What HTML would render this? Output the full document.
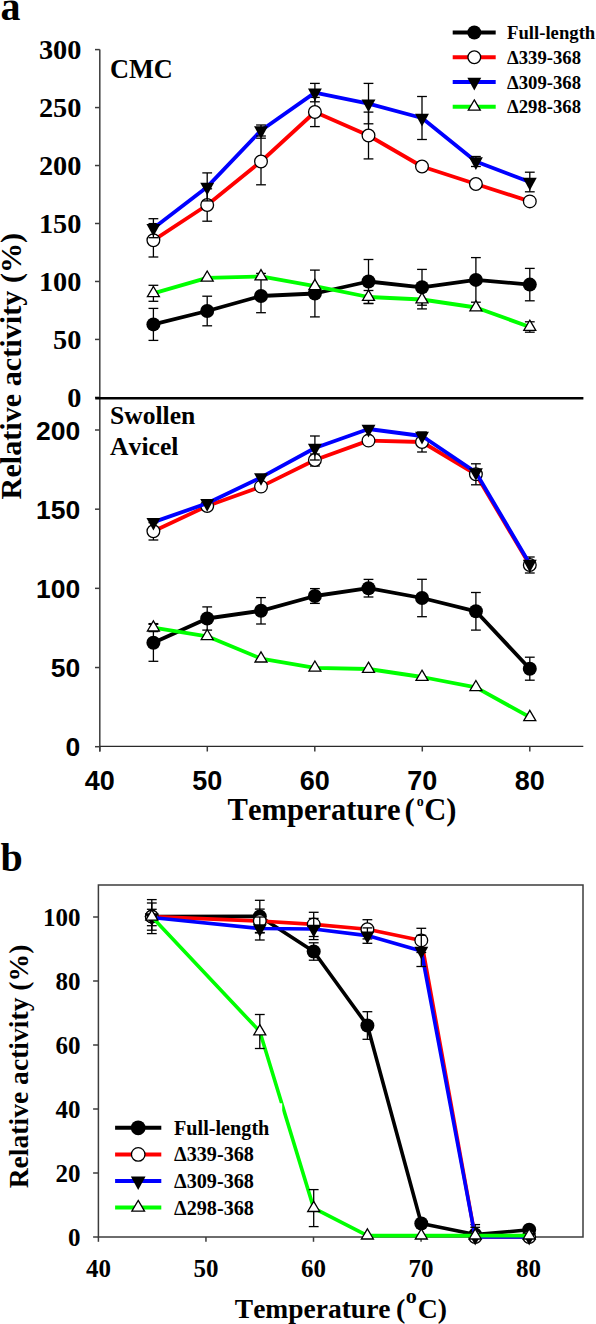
<!DOCTYPE html>
<html><head><meta charset="utf-8"><style>
html,body{margin:0;padding:0;background:#fff;}
svg{display:block;} text{font-kerning:none;}
</style></head><body>
<svg width="596" height="1324" viewBox="0 0 596 1324">
<rect width="596" height="1324" fill="#fff"/>
<text x="0.50" y="20.00" font-family='"Liberation Serif", serif' font-weight="bold" font-size="40" text-anchor="start" >a</text>
<line x1="99.80" y1="49.60" x2="99.80" y2="751.50" stroke="#3c3c3c" stroke-width="1.5" stroke-linecap="butt"/>
<line x1="95.00" y1="397.40" x2="99.80" y2="397.40" stroke="#3c3c3c" stroke-width="1.5" stroke-linecap="butt"/>
<text x="81.40" y="407.00" font-family='"Liberation Serif", serif' font-weight="bold" font-size="28.3" text-anchor="end" >0</text>
<line x1="95.00" y1="339.43" x2="99.80" y2="339.43" stroke="#3c3c3c" stroke-width="1.5" stroke-linecap="butt"/>
<text x="81.40" y="349.03" font-family='"Liberation Serif", serif' font-weight="bold" font-size="28.3" text-anchor="end" >50</text>
<line x1="95.00" y1="281.47" x2="99.80" y2="281.47" stroke="#3c3c3c" stroke-width="1.5" stroke-linecap="butt"/>
<text x="81.40" y="291.07" font-family='"Liberation Serif", serif' font-weight="bold" font-size="28.3" text-anchor="end" >100</text>
<line x1="95.00" y1="223.50" x2="99.80" y2="223.50" stroke="#3c3c3c" stroke-width="1.5" stroke-linecap="butt"/>
<text x="81.40" y="233.10" font-family='"Liberation Serif", serif' font-weight="bold" font-size="28.3" text-anchor="end" >150</text>
<line x1="95.00" y1="165.53" x2="99.80" y2="165.53" stroke="#3c3c3c" stroke-width="1.5" stroke-linecap="butt"/>
<text x="81.40" y="175.13" font-family='"Liberation Serif", serif' font-weight="bold" font-size="28.3" text-anchor="end" >200</text>
<line x1="95.00" y1="107.57" x2="99.80" y2="107.57" stroke="#3c3c3c" stroke-width="1.5" stroke-linecap="butt"/>
<text x="81.40" y="117.17" font-family='"Liberation Serif", serif' font-weight="bold" font-size="28.3" text-anchor="end" >250</text>
<line x1="95.00" y1="49.60" x2="99.80" y2="49.60" stroke="#3c3c3c" stroke-width="1.5" stroke-linecap="butt"/>
<text x="81.40" y="59.20" font-family='"Liberation Serif", serif' font-weight="bold" font-size="28.3" text-anchor="end" >300</text>
<line x1="95.20" y1="398.30" x2="583.40" y2="398.30" stroke="#000" stroke-width="2.4" stroke-linecap="butt"/>
<line x1="95.00" y1="746.70" x2="99.80" y2="746.70" stroke="#3c3c3c" stroke-width="1.5" stroke-linecap="butt"/>
<text x="80.30" y="756.20" font-family='"Liberation Sans", sans-serif' font-weight="bold" font-size="26.5" text-anchor="end" >0</text>
<line x1="95.00" y1="667.53" x2="99.80" y2="667.53" stroke="#3c3c3c" stroke-width="1.5" stroke-linecap="butt"/>
<text x="80.30" y="677.03" font-family='"Liberation Sans", sans-serif' font-weight="bold" font-size="26.5" text-anchor="end" >50</text>
<line x1="95.00" y1="588.35" x2="99.80" y2="588.35" stroke="#3c3c3c" stroke-width="1.5" stroke-linecap="butt"/>
<text x="80.30" y="597.85" font-family='"Liberation Sans", sans-serif' font-weight="bold" font-size="26.5" text-anchor="end" >100</text>
<line x1="95.00" y1="509.18" x2="99.80" y2="509.18" stroke="#3c3c3c" stroke-width="1.5" stroke-linecap="butt"/>
<text x="80.30" y="518.67" font-family='"Liberation Sans", sans-serif' font-weight="bold" font-size="26.5" text-anchor="end" >150</text>
<line x1="95.00" y1="430.00" x2="99.80" y2="430.00" stroke="#3c3c3c" stroke-width="1.5" stroke-linecap="butt"/>
<text x="80.30" y="439.50" font-family='"Liberation Sans", sans-serif' font-weight="bold" font-size="26.5" text-anchor="end" >200</text>
<line x1="99.80" y1="746.40" x2="583.30" y2="746.40" stroke="#2a2a2a" stroke-width="1.3" stroke-linecap="butt"/>
<line x1="99.80" y1="746.70" x2="99.80" y2="751.50" stroke="#3c3c3c" stroke-width="1.5" stroke-linecap="butt"/>
<text x="99.80" y="790.20" font-family='"Liberation Sans", sans-serif' font-weight="bold" font-size="27" text-anchor="middle" >40</text>
<line x1="207.30" y1="746.70" x2="207.30" y2="751.50" stroke="#3c3c3c" stroke-width="1.5" stroke-linecap="butt"/>
<text x="207.30" y="790.20" font-family='"Liberation Sans", sans-serif' font-weight="bold" font-size="27" text-anchor="middle" >50</text>
<line x1="314.80" y1="746.70" x2="314.80" y2="751.50" stroke="#3c3c3c" stroke-width="1.5" stroke-linecap="butt"/>
<text x="314.80" y="790.20" font-family='"Liberation Sans", sans-serif' font-weight="bold" font-size="27" text-anchor="middle" >60</text>
<line x1="422.30" y1="746.70" x2="422.30" y2="751.50" stroke="#3c3c3c" stroke-width="1.5" stroke-linecap="butt"/>
<text x="422.30" y="790.20" font-family='"Liberation Sans", sans-serif' font-weight="bold" font-size="27" text-anchor="middle" >70</text>
<line x1="529.80" y1="746.70" x2="529.80" y2="751.50" stroke="#3c3c3c" stroke-width="1.5" stroke-linecap="butt"/>
<text x="529.80" y="790.20" font-family='"Liberation Sans", sans-serif' font-weight="bold" font-size="27" text-anchor="middle" >80</text>
<text x="227.60" y="820.30" font-family='"Liberation Serif", serif' font-weight="bold" font-size="30.55" text-anchor="start" >Temperature</text>
<text x="404.50" y="820.30" font-family='"Liberation Serif", serif' font-weight="bold" font-size="30.55" text-anchor="start" >(</text>
<text x="416.80" y="806.20" font-family='"Liberation Serif", serif' font-weight="bold" font-size="14" text-anchor="start" >o</text>
<text x="424.30" y="820.30" font-family='"Liberation Serif", serif' font-weight="bold" font-size="30.55" text-anchor="start" >C)</text>
<text transform="translate(20.5,366.1) rotate(-90)" font-family='"Liberation Serif", serif' font-weight="bold" font-size="30.2" text-anchor="middle">Relative activity (%)</text>
<text x="110.00" y="77.80" font-family='"Liberation Serif", serif' font-weight="bold" font-size="26.3" text-anchor="start" >CMC</text>
<text x="110.00" y="424.30" font-family='"Liberation Serif", serif' font-weight="bold" font-size="25.6" text-anchor="start" >Swollen</text>
<text x="110.00" y="455.40" font-family='"Liberation Serif", serif' font-weight="bold" font-size="25.7" text-anchor="start" >Avicel</text>
<polyline points="153.40,324.40 207.20,311.00 261.00,296.00 314.90,293.50 368.50,281.50 422.00,287.30 475.90,279.90 529.80,284.60" fill="none" stroke="#000" stroke-width="3.8" stroke-linejoin="round" stroke-linecap="butt"/>
<line x1="153.40" y1="308.40" x2="153.40" y2="340.40" stroke="#000" stroke-width="1.3"/>
<line x1="148.50" y1="308.40" x2="158.30" y2="308.40" stroke="#000" stroke-width="1.3"/>
<line x1="148.50" y1="340.40" x2="158.30" y2="340.40" stroke="#000" stroke-width="1.3"/>
<line x1="207.20" y1="296.20" x2="207.20" y2="325.80" stroke="#000" stroke-width="1.3"/>
<line x1="202.30" y1="296.20" x2="212.10" y2="296.20" stroke="#000" stroke-width="1.3"/>
<line x1="202.30" y1="325.80" x2="212.10" y2="325.80" stroke="#000" stroke-width="1.3"/>
<line x1="261.00" y1="279.30" x2="261.00" y2="312.70" stroke="#000" stroke-width="1.3"/>
<line x1="256.10" y1="279.30" x2="265.90" y2="279.30" stroke="#000" stroke-width="1.3"/>
<line x1="256.10" y1="312.70" x2="265.90" y2="312.70" stroke="#000" stroke-width="1.3"/>
<line x1="314.90" y1="270.10" x2="314.90" y2="316.90" stroke="#000" stroke-width="1.3"/>
<line x1="310.00" y1="270.10" x2="319.80" y2="270.10" stroke="#000" stroke-width="1.3"/>
<line x1="310.00" y1="316.90" x2="319.80" y2="316.90" stroke="#000" stroke-width="1.3"/>
<line x1="368.50" y1="259.50" x2="368.50" y2="303.50" stroke="#000" stroke-width="1.3"/>
<line x1="363.60" y1="259.50" x2="373.40" y2="259.50" stroke="#000" stroke-width="1.3"/>
<line x1="363.60" y1="303.50" x2="373.40" y2="303.50" stroke="#000" stroke-width="1.3"/>
<line x1="422.00" y1="269.40" x2="422.00" y2="305.20" stroke="#000" stroke-width="1.3"/>
<line x1="417.10" y1="269.40" x2="426.90" y2="269.40" stroke="#000" stroke-width="1.3"/>
<line x1="417.10" y1="305.20" x2="426.90" y2="305.20" stroke="#000" stroke-width="1.3"/>
<line x1="475.90" y1="257.60" x2="475.90" y2="302.20" stroke="#000" stroke-width="1.3"/>
<line x1="471.00" y1="257.60" x2="480.80" y2="257.60" stroke="#000" stroke-width="1.3"/>
<line x1="471.00" y1="302.20" x2="480.80" y2="302.20" stroke="#000" stroke-width="1.3"/>
<line x1="529.80" y1="268.40" x2="529.80" y2="300.80" stroke="#000" stroke-width="1.3"/>
<line x1="524.90" y1="268.40" x2="534.70" y2="268.40" stroke="#000" stroke-width="1.3"/>
<line x1="524.90" y1="300.80" x2="534.70" y2="300.80" stroke="#000" stroke-width="1.3"/>
<circle cx="153.40" cy="324.40" r="7.00" fill="#000"/>
<circle cx="207.20" cy="311.00" r="7.00" fill="#000"/>
<circle cx="261.00" cy="296.00" r="7.00" fill="#000"/>
<circle cx="314.90" cy="293.50" r="7.00" fill="#000"/>
<circle cx="368.50" cy="281.50" r="7.00" fill="#000"/>
<circle cx="422.00" cy="287.30" r="7.00" fill="#000"/>
<circle cx="475.90" cy="279.90" r="7.00" fill="#000"/>
<circle cx="529.80" cy="284.60" r="7.00" fill="#000"/>
<polyline points="153.40,240.30 207.20,205.00 261.00,161.50 314.90,112.00 368.50,135.50 422.00,166.50 475.90,184.00 529.80,201.40" fill="none" stroke="#f00" stroke-width="3.8" stroke-linejoin="round" stroke-linecap="butt"/>
<line x1="153.40" y1="223.60" x2="153.40" y2="257.00" stroke="#000" stroke-width="1.3"/>
<line x1="148.50" y1="223.60" x2="158.30" y2="223.60" stroke="#000" stroke-width="1.3"/>
<line x1="148.50" y1="257.00" x2="158.30" y2="257.00" stroke="#000" stroke-width="1.3"/>
<line x1="207.20" y1="188.80" x2="207.20" y2="221.20" stroke="#000" stroke-width="1.3"/>
<line x1="202.30" y1="188.80" x2="212.10" y2="188.80" stroke="#000" stroke-width="1.3"/>
<line x1="202.30" y1="221.20" x2="212.10" y2="221.20" stroke="#000" stroke-width="1.3"/>
<line x1="261.00" y1="138.20" x2="261.00" y2="184.80" stroke="#000" stroke-width="1.3"/>
<line x1="256.10" y1="138.20" x2="265.90" y2="138.20" stroke="#000" stroke-width="1.3"/>
<line x1="256.10" y1="184.80" x2="265.90" y2="184.80" stroke="#000" stroke-width="1.3"/>
<line x1="314.90" y1="97.40" x2="314.90" y2="126.60" stroke="#000" stroke-width="1.3"/>
<line x1="310.00" y1="97.40" x2="319.80" y2="97.40" stroke="#000" stroke-width="1.3"/>
<line x1="310.00" y1="126.60" x2="319.80" y2="126.60" stroke="#000" stroke-width="1.3"/>
<line x1="368.50" y1="112.10" x2="368.50" y2="158.90" stroke="#000" stroke-width="1.3"/>
<line x1="363.60" y1="112.10" x2="373.40" y2="112.10" stroke="#000" stroke-width="1.3"/>
<line x1="363.60" y1="158.90" x2="373.40" y2="158.90" stroke="#000" stroke-width="1.3"/>
<circle cx="153.40" cy="240.30" r="6.35" fill="#fff" stroke="#000" stroke-width="1.3"/>
<circle cx="207.20" cy="205.00" r="6.35" fill="#fff" stroke="#000" stroke-width="1.3"/>
<circle cx="261.00" cy="161.50" r="6.35" fill="#fff" stroke="#000" stroke-width="1.3"/>
<circle cx="314.90" cy="112.00" r="6.35" fill="#fff" stroke="#000" stroke-width="1.3"/>
<circle cx="368.50" cy="135.50" r="6.35" fill="#fff" stroke="#000" stroke-width="1.3"/>
<circle cx="422.00" cy="166.50" r="6.35" fill="#fff" stroke="#000" stroke-width="1.3"/>
<circle cx="475.90" cy="184.00" r="6.35" fill="#fff" stroke="#000" stroke-width="1.3"/>
<circle cx="529.80" cy="201.40" r="6.35" fill="#fff" stroke="#000" stroke-width="1.3"/>
<polyline points="153.40,228.20 207.20,186.90 261.00,130.50 314.90,92.60 368.50,103.60 422.00,118.00 475.90,161.50 529.80,182.00" fill="none" stroke="#00f" stroke-width="3.8" stroke-linejoin="round" stroke-linecap="butt"/>
<line x1="153.40" y1="218.70" x2="153.40" y2="237.70" stroke="#000" stroke-width="1.3"/>
<line x1="148.50" y1="218.70" x2="158.30" y2="218.70" stroke="#000" stroke-width="1.3"/>
<line x1="148.50" y1="237.70" x2="158.30" y2="237.70" stroke="#000" stroke-width="1.3"/>
<line x1="207.20" y1="172.90" x2="207.20" y2="200.90" stroke="#000" stroke-width="1.3"/>
<line x1="202.30" y1="172.90" x2="212.10" y2="172.90" stroke="#000" stroke-width="1.3"/>
<line x1="202.30" y1="200.90" x2="212.10" y2="200.90" stroke="#000" stroke-width="1.3"/>
<line x1="261.00" y1="125.00" x2="261.00" y2="136.00" stroke="#000" stroke-width="1.3"/>
<line x1="256.10" y1="125.00" x2="265.90" y2="125.00" stroke="#000" stroke-width="1.3"/>
<line x1="256.10" y1="136.00" x2="265.90" y2="136.00" stroke="#000" stroke-width="1.3"/>
<line x1="314.90" y1="83.40" x2="314.90" y2="101.80" stroke="#000" stroke-width="1.3"/>
<line x1="310.00" y1="83.40" x2="319.80" y2="83.40" stroke="#000" stroke-width="1.3"/>
<line x1="310.00" y1="101.80" x2="319.80" y2="101.80" stroke="#000" stroke-width="1.3"/>
<line x1="368.50" y1="83.40" x2="368.50" y2="123.80" stroke="#000" stroke-width="1.3"/>
<line x1="363.60" y1="83.40" x2="373.40" y2="83.40" stroke="#000" stroke-width="1.3"/>
<line x1="363.60" y1="123.80" x2="373.40" y2="123.80" stroke="#000" stroke-width="1.3"/>
<line x1="422.00" y1="96.50" x2="422.00" y2="139.50" stroke="#000" stroke-width="1.3"/>
<line x1="417.10" y1="96.50" x2="426.90" y2="96.50" stroke="#000" stroke-width="1.3"/>
<line x1="417.10" y1="139.50" x2="426.90" y2="139.50" stroke="#000" stroke-width="1.3"/>
<line x1="475.90" y1="156.50" x2="475.90" y2="166.50" stroke="#000" stroke-width="1.3"/>
<line x1="471.00" y1="156.50" x2="480.80" y2="156.50" stroke="#000" stroke-width="1.3"/>
<line x1="471.00" y1="166.50" x2="480.80" y2="166.50" stroke="#000" stroke-width="1.3"/>
<line x1="529.80" y1="172.20" x2="529.80" y2="191.80" stroke="#000" stroke-width="1.3"/>
<line x1="524.90" y1="172.20" x2="534.70" y2="172.20" stroke="#000" stroke-width="1.3"/>
<line x1="524.90" y1="191.80" x2="534.70" y2="191.80" stroke="#000" stroke-width="1.3"/>
<path d="M146.45,224.00 L160.35,224.00 L153.40,236.60 Z" fill="#000"/>
<path d="M200.25,182.70 L214.15,182.70 L207.20,195.30 Z" fill="#000"/>
<path d="M254.05,126.30 L267.95,126.30 L261.00,138.90 Z" fill="#000"/>
<path d="M307.95,88.40 L321.85,88.40 L314.90,101.00 Z" fill="#000"/>
<path d="M361.55,99.40 L375.45,99.40 L368.50,112.00 Z" fill="#000"/>
<path d="M415.05,113.80 L428.95,113.80 L422.00,126.40 Z" fill="#000"/>
<path d="M468.95,157.30 L482.85,157.30 L475.90,169.90 Z" fill="#000"/>
<path d="M522.85,177.80 L536.75,177.80 L529.80,190.40 Z" fill="#000"/>
<polyline points="153.40,293.30 207.20,277.80 261.00,276.40 314.90,286.20 368.50,297.00 422.00,299.50 475.90,307.50 529.80,327.00" fill="none" stroke="#0f0" stroke-width="3.8" stroke-linejoin="round" stroke-linecap="butt"/>
<line x1="153.40" y1="285.30" x2="153.40" y2="301.30" stroke="#000" stroke-width="1.3"/>
<line x1="148.50" y1="285.30" x2="158.30" y2="285.30" stroke="#000" stroke-width="1.3"/>
<line x1="148.50" y1="301.30" x2="158.30" y2="301.30" stroke="#000" stroke-width="1.3"/>
<line x1="261.00" y1="273.40" x2="261.00" y2="279.40" stroke="#000" stroke-width="1.3"/>
<line x1="256.10" y1="273.40" x2="265.90" y2="273.40" stroke="#000" stroke-width="1.3"/>
<line x1="256.10" y1="279.40" x2="265.90" y2="279.40" stroke="#000" stroke-width="1.3"/>
<line x1="368.50" y1="290.50" x2="368.50" y2="303.50" stroke="#000" stroke-width="1.3"/>
<line x1="363.60" y1="290.50" x2="373.40" y2="290.50" stroke="#000" stroke-width="1.3"/>
<line x1="363.60" y1="303.50" x2="373.40" y2="303.50" stroke="#000" stroke-width="1.3"/>
<line x1="422.00" y1="290.10" x2="422.00" y2="308.90" stroke="#000" stroke-width="1.3"/>
<line x1="417.10" y1="290.10" x2="426.90" y2="290.10" stroke="#000" stroke-width="1.3"/>
<line x1="417.10" y1="308.90" x2="426.90" y2="308.90" stroke="#000" stroke-width="1.3"/>
<line x1="529.80" y1="321.80" x2="529.80" y2="332.20" stroke="#000" stroke-width="1.3"/>
<line x1="524.90" y1="321.80" x2="534.70" y2="321.80" stroke="#000" stroke-width="1.3"/>
<line x1="524.90" y1="332.20" x2="534.70" y2="332.20" stroke="#000" stroke-width="1.3"/>
<path d="M153.40,286.50 L159.40,296.70 L147.40,296.70 Z" fill="#fff" stroke="#000" stroke-width="1.3" stroke-linejoin="miter"/>
<path d="M207.20,271.00 L213.20,281.20 L201.20,281.20 Z" fill="#fff" stroke="#000" stroke-width="1.3" stroke-linejoin="miter"/>
<path d="M261.00,269.60 L267.00,279.80 L255.00,279.80 Z" fill="#fff" stroke="#000" stroke-width="1.3" stroke-linejoin="miter"/>
<path d="M314.90,279.40 L320.90,289.60 L308.90,289.60 Z" fill="#fff" stroke="#000" stroke-width="1.3" stroke-linejoin="miter"/>
<path d="M368.50,290.20 L374.50,300.40 L362.50,300.40 Z" fill="#fff" stroke="#000" stroke-width="1.3" stroke-linejoin="miter"/>
<path d="M422.00,292.70 L428.00,302.90 L416.00,302.90 Z" fill="#fff" stroke="#000" stroke-width="1.3" stroke-linejoin="miter"/>
<path d="M475.90,300.70 L481.90,310.90 L469.90,310.90 Z" fill="#fff" stroke="#000" stroke-width="1.3" stroke-linejoin="miter"/>
<path d="M529.80,320.20 L535.80,330.40 L523.80,330.40 Z" fill="#fff" stroke="#000" stroke-width="1.3" stroke-linejoin="miter"/>
<polyline points="153.40,642.80 207.20,618.50 261.00,610.80 314.90,596.00 368.50,588.20 422.00,598.00 475.90,611.30 529.80,668.70" fill="none" stroke="#000" stroke-width="3.8" stroke-linejoin="round" stroke-linecap="butt"/>
<line x1="153.40" y1="624.30" x2="153.40" y2="661.30" stroke="#000" stroke-width="1.3"/>
<line x1="148.50" y1="624.30" x2="158.30" y2="624.30" stroke="#000" stroke-width="1.3"/>
<line x1="148.50" y1="661.30" x2="158.30" y2="661.30" stroke="#000" stroke-width="1.3"/>
<line x1="207.20" y1="606.90" x2="207.20" y2="630.10" stroke="#000" stroke-width="1.3"/>
<line x1="202.30" y1="606.90" x2="212.10" y2="606.90" stroke="#000" stroke-width="1.3"/>
<line x1="202.30" y1="630.10" x2="212.10" y2="630.10" stroke="#000" stroke-width="1.3"/>
<line x1="261.00" y1="597.60" x2="261.00" y2="624.00" stroke="#000" stroke-width="1.3"/>
<line x1="256.10" y1="597.60" x2="265.90" y2="597.60" stroke="#000" stroke-width="1.3"/>
<line x1="256.10" y1="624.00" x2="265.90" y2="624.00" stroke="#000" stroke-width="1.3"/>
<line x1="314.90" y1="588.60" x2="314.90" y2="603.40" stroke="#000" stroke-width="1.3"/>
<line x1="310.00" y1="588.60" x2="319.80" y2="588.60" stroke="#000" stroke-width="1.3"/>
<line x1="310.00" y1="603.40" x2="319.80" y2="603.40" stroke="#000" stroke-width="1.3"/>
<line x1="368.50" y1="579.40" x2="368.50" y2="597.00" stroke="#000" stroke-width="1.3"/>
<line x1="363.60" y1="579.40" x2="373.40" y2="579.40" stroke="#000" stroke-width="1.3"/>
<line x1="363.60" y1="597.00" x2="373.40" y2="597.00" stroke="#000" stroke-width="1.3"/>
<line x1="422.00" y1="579.30" x2="422.00" y2="616.70" stroke="#000" stroke-width="1.3"/>
<line x1="417.10" y1="579.30" x2="426.90" y2="579.30" stroke="#000" stroke-width="1.3"/>
<line x1="417.10" y1="616.70" x2="426.90" y2="616.70" stroke="#000" stroke-width="1.3"/>
<line x1="475.90" y1="592.50" x2="475.90" y2="630.10" stroke="#000" stroke-width="1.3"/>
<line x1="471.00" y1="592.50" x2="480.80" y2="592.50" stroke="#000" stroke-width="1.3"/>
<line x1="471.00" y1="630.10" x2="480.80" y2="630.10" stroke="#000" stroke-width="1.3"/>
<line x1="529.80" y1="657.20" x2="529.80" y2="680.20" stroke="#000" stroke-width="1.3"/>
<line x1="524.90" y1="657.20" x2="534.70" y2="657.20" stroke="#000" stroke-width="1.3"/>
<line x1="524.90" y1="680.20" x2="534.70" y2="680.20" stroke="#000" stroke-width="1.3"/>
<circle cx="153.40" cy="642.80" r="7.00" fill="#000"/>
<circle cx="207.20" cy="618.50" r="7.00" fill="#000"/>
<circle cx="261.00" cy="610.80" r="7.00" fill="#000"/>
<circle cx="314.90" cy="596.00" r="7.00" fill="#000"/>
<circle cx="368.50" cy="588.20" r="7.00" fill="#000"/>
<circle cx="422.00" cy="598.00" r="7.00" fill="#000"/>
<circle cx="475.90" cy="611.30" r="7.00" fill="#000"/>
<circle cx="529.80" cy="668.70" r="7.00" fill="#000"/>
<polyline points="153.40,531.30 207.20,506.00 261.00,486.60 314.90,460.00 368.50,440.60 422.00,442.00 475.90,474.30 529.80,565.00" fill="none" stroke="#f00" stroke-width="3.8" stroke-linejoin="round" stroke-linecap="butt"/>
<line x1="153.40" y1="522.60" x2="153.40" y2="540.00" stroke="#000" stroke-width="1.3"/>
<line x1="148.50" y1="522.60" x2="158.30" y2="522.60" stroke="#000" stroke-width="1.3"/>
<line x1="148.50" y1="540.00" x2="158.30" y2="540.00" stroke="#000" stroke-width="1.3"/>
<line x1="314.90" y1="454.00" x2="314.90" y2="466.00" stroke="#000" stroke-width="1.3"/>
<line x1="310.00" y1="454.00" x2="319.80" y2="454.00" stroke="#000" stroke-width="1.3"/>
<line x1="310.00" y1="466.00" x2="319.80" y2="466.00" stroke="#000" stroke-width="1.3"/>
<line x1="422.00" y1="432.00" x2="422.00" y2="452.00" stroke="#000" stroke-width="1.3"/>
<line x1="417.10" y1="432.00" x2="426.90" y2="432.00" stroke="#000" stroke-width="1.3"/>
<line x1="417.10" y1="452.00" x2="426.90" y2="452.00" stroke="#000" stroke-width="1.3"/>
<line x1="475.90" y1="463.80" x2="475.90" y2="484.80" stroke="#000" stroke-width="1.3"/>
<line x1="471.00" y1="463.80" x2="480.80" y2="463.80" stroke="#000" stroke-width="1.3"/>
<line x1="471.00" y1="484.80" x2="480.80" y2="484.80" stroke="#000" stroke-width="1.3"/>
<line x1="529.80" y1="557.00" x2="529.80" y2="573.00" stroke="#000" stroke-width="1.3"/>
<line x1="524.90" y1="557.00" x2="534.70" y2="557.00" stroke="#000" stroke-width="1.3"/>
<line x1="524.90" y1="573.00" x2="534.70" y2="573.00" stroke="#000" stroke-width="1.3"/>
<circle cx="153.40" cy="531.30" r="6.35" fill="#fff" stroke="#000" stroke-width="1.3"/>
<circle cx="207.20" cy="506.00" r="6.35" fill="#fff" stroke="#000" stroke-width="1.3"/>
<circle cx="261.00" cy="486.60" r="6.35" fill="#fff" stroke="#000" stroke-width="1.3"/>
<circle cx="314.90" cy="460.00" r="6.35" fill="#fff" stroke="#000" stroke-width="1.3"/>
<circle cx="368.50" cy="440.60" r="6.35" fill="#fff" stroke="#000" stroke-width="1.3"/>
<circle cx="422.00" cy="442.00" r="6.35" fill="#fff" stroke="#000" stroke-width="1.3"/>
<circle cx="475.90" cy="474.30" r="6.35" fill="#fff" stroke="#000" stroke-width="1.3"/>
<circle cx="529.80" cy="565.00" r="6.35" fill="#fff" stroke="#000" stroke-width="1.3"/>
<polyline points="153.40,522.10 207.20,503.30 261.00,477.40 314.90,448.00 368.50,429.00 422.00,436.00 475.90,472.40 529.80,564.00" fill="none" stroke="#00f" stroke-width="3.8" stroke-linejoin="round" stroke-linecap="butt"/>
<line x1="314.90" y1="436.00" x2="314.90" y2="460.00" stroke="#000" stroke-width="1.3"/>
<line x1="310.00" y1="436.00" x2="319.80" y2="436.00" stroke="#000" stroke-width="1.3"/>
<line x1="310.00" y1="460.00" x2="319.80" y2="460.00" stroke="#000" stroke-width="1.3"/>
<path d="M146.45,517.90 L160.35,517.90 L153.40,530.50 Z" fill="#000"/>
<path d="M200.25,499.10 L214.15,499.10 L207.20,511.70 Z" fill="#000"/>
<path d="M254.05,473.20 L267.95,473.20 L261.00,485.80 Z" fill="#000"/>
<path d="M307.95,443.80 L321.85,443.80 L314.90,456.40 Z" fill="#000"/>
<path d="M361.55,424.80 L375.45,424.80 L368.50,437.40 Z" fill="#000"/>
<path d="M415.05,431.80 L428.95,431.80 L422.00,444.40 Z" fill="#000"/>
<path d="M468.95,468.20 L482.85,468.20 L475.90,480.80 Z" fill="#000"/>
<path d="M522.85,559.80 L536.75,559.80 L529.80,572.40 Z" fill="#000"/>
<polyline points="153.40,627.60 207.20,636.30 261.00,658.60 314.90,667.80 368.50,669.00 422.00,677.00 475.90,687.30 529.80,717.20" fill="none" stroke="#0f0" stroke-width="3.8" stroke-linejoin="round" stroke-linecap="butt"/>
<line x1="153.40" y1="623.60" x2="153.40" y2="631.60" stroke="#000" stroke-width="1.3"/>
<line x1="148.50" y1="623.60" x2="158.30" y2="623.60" stroke="#000" stroke-width="1.3"/>
<line x1="148.50" y1="631.60" x2="158.30" y2="631.60" stroke="#000" stroke-width="1.3"/>
<path d="M153.40,620.80 L159.40,631.00 L147.40,631.00 Z" fill="#fff" stroke="#000" stroke-width="1.3" stroke-linejoin="miter"/>
<path d="M207.20,629.50 L213.20,639.70 L201.20,639.70 Z" fill="#fff" stroke="#000" stroke-width="1.3" stroke-linejoin="miter"/>
<path d="M261.00,651.80 L267.00,662.00 L255.00,662.00 Z" fill="#fff" stroke="#000" stroke-width="1.3" stroke-linejoin="miter"/>
<path d="M314.90,661.00 L320.90,671.20 L308.90,671.20 Z" fill="#fff" stroke="#000" stroke-width="1.3" stroke-linejoin="miter"/>
<path d="M368.50,662.20 L374.50,672.40 L362.50,672.40 Z" fill="#fff" stroke="#000" stroke-width="1.3" stroke-linejoin="miter"/>
<path d="M422.00,670.20 L428.00,680.40 L416.00,680.40 Z" fill="#fff" stroke="#000" stroke-width="1.3" stroke-linejoin="miter"/>
<path d="M475.90,680.50 L481.90,690.70 L469.90,690.70 Z" fill="#fff" stroke="#000" stroke-width="1.3" stroke-linejoin="miter"/>
<path d="M529.80,710.40 L535.80,720.60 L523.80,720.60 Z" fill="#fff" stroke="#000" stroke-width="1.3" stroke-linejoin="miter"/>
<line x1="452.70" y1="32.50" x2="495.70" y2="32.50" stroke="#000" stroke-width="4.0" stroke-linecap="butt"/>
<circle cx="474.30" cy="32.50" r="7.00" fill="#000"/>
<text x="507.00" y="39.00" font-family='"Liberation Serif", serif' font-weight="bold" font-size="18.7" text-anchor="start" >Full-length</text>
<line x1="452.70" y1="57.25" x2="495.70" y2="57.25" stroke="#f00" stroke-width="4.0" stroke-linecap="butt"/>
<circle cx="474.30" cy="57.25" r="6.35" fill="#fff" stroke="#000" stroke-width="1.3"/>
<text x="507.00" y="63.75" font-family='"Liberation Serif", serif' font-weight="bold" font-size="18.7" text-anchor="start" >&#916;339-368</text>
<line x1="452.70" y1="82.00" x2="495.70" y2="82.00" stroke="#00f" stroke-width="4.0" stroke-linecap="butt"/>
<path d="M467.35,77.80 L481.25,77.80 L474.30,90.40 Z" fill="#000"/>
<text x="507.00" y="88.50" font-family='"Liberation Serif", serif' font-weight="bold" font-size="18.7" text-anchor="start" >&#916;309-368</text>
<line x1="452.70" y1="106.75" x2="495.70" y2="106.75" stroke="#0f0" stroke-width="4.0" stroke-linecap="butt"/>
<path d="M474.30,99.95 L480.30,110.15 L468.30,110.15 Z" fill="#fff" stroke="#000" stroke-width="1.3" stroke-linejoin="miter"/>
<text x="507.00" y="113.25" font-family='"Liberation Serif", serif' font-weight="bold" font-size="18.7" text-anchor="start" >&#916;298-368</text>
<text x="0.50" y="870.80" font-family='"Liberation Serif", serif' font-weight="bold" font-size="40" text-anchor="start" >b</text>
<rect x="98.40" y="885.00" width="484.60" height="352.00" fill="none" stroke="#3c3c3c" stroke-width="1.5"/>
<line x1="93.10" y1="1237.00" x2="98.40" y2="1237.00" stroke="#3c3c3c" stroke-width="1.5" stroke-linecap="butt"/>
<text x="80.50" y="1245.60" font-family='"Liberation Serif", serif' font-weight="bold" font-size="25" text-anchor="end" >0</text>
<line x1="93.10" y1="1173.00" x2="98.40" y2="1173.00" stroke="#3c3c3c" stroke-width="1.5" stroke-linecap="butt"/>
<text x="80.50" y="1181.60" font-family='"Liberation Serif", serif' font-weight="bold" font-size="25" text-anchor="end" >20</text>
<line x1="93.10" y1="1109.00" x2="98.40" y2="1109.00" stroke="#3c3c3c" stroke-width="1.5" stroke-linecap="butt"/>
<text x="80.50" y="1117.60" font-family='"Liberation Serif", serif' font-weight="bold" font-size="25" text-anchor="end" >40</text>
<line x1="93.10" y1="1045.00" x2="98.40" y2="1045.00" stroke="#3c3c3c" stroke-width="1.5" stroke-linecap="butt"/>
<text x="80.50" y="1053.60" font-family='"Liberation Serif", serif' font-weight="bold" font-size="25" text-anchor="end" >60</text>
<line x1="93.10" y1="981.00" x2="98.40" y2="981.00" stroke="#3c3c3c" stroke-width="1.5" stroke-linecap="butt"/>
<text x="80.50" y="989.60" font-family='"Liberation Serif", serif' font-weight="bold" font-size="25" text-anchor="end" >80</text>
<line x1="93.10" y1="917.00" x2="98.40" y2="917.00" stroke="#3c3c3c" stroke-width="1.5" stroke-linecap="butt"/>
<text x="80.50" y="925.60" font-family='"Liberation Serif", serif' font-weight="bold" font-size="25" text-anchor="end" >100</text>
<line x1="98.40" y1="1237.00" x2="98.40" y2="1241.80" stroke="#3c3c3c" stroke-width="1.5" stroke-linecap="butt"/>
<text x="98.40" y="1277.00" font-family='"Liberation Serif", serif' font-weight="bold" font-size="25" text-anchor="middle" >40</text>
<line x1="205.95" y1="1237.00" x2="205.95" y2="1241.80" stroke="#3c3c3c" stroke-width="1.5" stroke-linecap="butt"/>
<text x="205.95" y="1277.00" font-family='"Liberation Serif", serif' font-weight="bold" font-size="25" text-anchor="middle" >50</text>
<line x1="313.50" y1="1237.00" x2="313.50" y2="1241.80" stroke="#3c3c3c" stroke-width="1.5" stroke-linecap="butt"/>
<text x="313.50" y="1277.00" font-family='"Liberation Serif", serif' font-weight="bold" font-size="25" text-anchor="middle" >60</text>
<line x1="421.05" y1="1237.00" x2="421.05" y2="1241.80" stroke="#3c3c3c" stroke-width="1.5" stroke-linecap="butt"/>
<text x="421.05" y="1277.00" font-family='"Liberation Serif", serif' font-weight="bold" font-size="25" text-anchor="middle" >70</text>
<line x1="528.60" y1="1237.00" x2="528.60" y2="1241.80" stroke="#3c3c3c" stroke-width="1.5" stroke-linecap="butt"/>
<text x="528.60" y="1277.00" font-family='"Liberation Serif", serif' font-weight="bold" font-size="25" text-anchor="middle" >80</text>
<text x="234.80" y="1318.00" font-family='"Liberation Serif", serif' font-weight="bold" font-size="27.5" text-anchor="start" >Temperature</text>
<text x="396.10" y="1318.00" font-family='"Liberation Serif", serif' font-weight="bold" font-size="27.8" text-anchor="start" >(</text>
<text x="405.80" y="1303.00" font-family='"Liberation Serif", serif' font-weight="bold" font-size="22" text-anchor="start" >o</text>
<text x="417.80" y="1318.00" font-family='"Liberation Serif", serif' font-weight="bold" font-size="27.8" text-anchor="start" >C)</text>
<text transform="translate(28.2,1066.5) rotate(-90)" font-family='"Liberation Serif", serif' font-weight="bold" font-size="27.6" text-anchor="middle">Relative activity (%)</text>
<polyline points="151.80,916.60 259.80,916.40 313.70,951.50 367.40,1025.50 421.30,1223.50 475.20,1234.60 529.20,1229.80" fill="none" stroke="#000" stroke-width="3.6" stroke-linejoin="round" stroke-linecap="butt"/>
<line x1="151.80" y1="899.60" x2="151.80" y2="933.60" stroke="#000" stroke-width="1.3"/>
<line x1="146.90" y1="899.60" x2="156.70" y2="899.60" stroke="#000" stroke-width="1.3"/>
<line x1="146.90" y1="933.60" x2="156.70" y2="933.60" stroke="#000" stroke-width="1.3"/>
<line x1="259.80" y1="900.30" x2="259.80" y2="932.50" stroke="#000" stroke-width="1.3"/>
<line x1="254.90" y1="900.30" x2="264.70" y2="900.30" stroke="#000" stroke-width="1.3"/>
<line x1="254.90" y1="932.50" x2="264.70" y2="932.50" stroke="#000" stroke-width="1.3"/>
<line x1="313.70" y1="942.80" x2="313.70" y2="960.20" stroke="#000" stroke-width="1.3"/>
<line x1="308.80" y1="942.80" x2="318.60" y2="942.80" stroke="#000" stroke-width="1.3"/>
<line x1="308.80" y1="960.20" x2="318.60" y2="960.20" stroke="#000" stroke-width="1.3"/>
<line x1="367.40" y1="1011.70" x2="367.40" y2="1039.30" stroke="#000" stroke-width="1.3"/>
<line x1="362.50" y1="1011.70" x2="372.30" y2="1011.70" stroke="#000" stroke-width="1.3"/>
<line x1="362.50" y1="1039.30" x2="372.30" y2="1039.30" stroke="#000" stroke-width="1.3"/>
<line x1="475.20" y1="1224.60" x2="475.20" y2="1237.00" stroke="#000" stroke-width="1.3"/>
<line x1="470.30" y1="1224.60" x2="480.10" y2="1224.60" stroke="#000" stroke-width="1.3"/>
<circle cx="151.80" cy="916.60" r="7.00" fill="#000"/>
<circle cx="259.80" cy="916.40" r="7.00" fill="#000"/>
<circle cx="313.70" cy="951.50" r="7.00" fill="#000"/>
<circle cx="367.40" cy="1025.50" r="7.00" fill="#000"/>
<circle cx="421.30" cy="1223.50" r="7.00" fill="#000"/>
<circle cx="475.20" cy="1234.60" r="7.00" fill="#000"/>
<circle cx="529.20" cy="1229.80" r="7.00" fill="#000"/>
<polyline points="151.80,916.60 259.80,921.00 313.70,924.40 367.40,929.30 421.30,940.40 475.20,1237.00 529.20,1237.00" fill="none" stroke="#f00" stroke-width="3.6" stroke-linejoin="round" stroke-linecap="butt"/>
<line x1="151.80" y1="903.00" x2="151.80" y2="930.20" stroke="#000" stroke-width="1.3"/>
<line x1="146.90" y1="903.00" x2="156.70" y2="903.00" stroke="#000" stroke-width="1.3"/>
<line x1="146.90" y1="930.20" x2="156.70" y2="930.20" stroke="#000" stroke-width="1.3"/>
<line x1="259.80" y1="909.10" x2="259.80" y2="932.90" stroke="#000" stroke-width="1.3"/>
<line x1="254.90" y1="909.10" x2="264.70" y2="909.10" stroke="#000" stroke-width="1.3"/>
<line x1="254.90" y1="932.90" x2="264.70" y2="932.90" stroke="#000" stroke-width="1.3"/>
<line x1="313.70" y1="912.30" x2="313.70" y2="936.50" stroke="#000" stroke-width="1.3"/>
<line x1="308.80" y1="912.30" x2="318.60" y2="912.30" stroke="#000" stroke-width="1.3"/>
<line x1="308.80" y1="936.50" x2="318.60" y2="936.50" stroke="#000" stroke-width="1.3"/>
<line x1="367.40" y1="919.70" x2="367.40" y2="938.90" stroke="#000" stroke-width="1.3"/>
<line x1="362.50" y1="919.70" x2="372.30" y2="919.70" stroke="#000" stroke-width="1.3"/>
<line x1="362.50" y1="938.90" x2="372.30" y2="938.90" stroke="#000" stroke-width="1.3"/>
<line x1="421.30" y1="928.30" x2="421.30" y2="952.50" stroke="#000" stroke-width="1.3"/>
<line x1="416.40" y1="928.30" x2="426.20" y2="928.30" stroke="#000" stroke-width="1.3"/>
<line x1="416.40" y1="952.50" x2="426.20" y2="952.50" stroke="#000" stroke-width="1.3"/>
<circle cx="151.80" cy="916.60" r="6.35" fill="#fff" stroke="#000" stroke-width="1.3"/>
<circle cx="259.80" cy="921.00" r="6.35" fill="#fff" stroke="#000" stroke-width="1.3"/>
<circle cx="313.70" cy="924.40" r="6.35" fill="#fff" stroke="#000" stroke-width="1.3"/>
<circle cx="367.40" cy="929.30" r="6.35" fill="#fff" stroke="#000" stroke-width="1.3"/>
<circle cx="421.30" cy="940.40" r="6.35" fill="#fff" stroke="#000" stroke-width="1.3"/>
<circle cx="475.20" cy="1237.00" r="6.35" fill="#fff" stroke="#000" stroke-width="1.3"/>
<circle cx="529.20" cy="1237.00" r="6.35" fill="#fff" stroke="#000" stroke-width="1.3"/>
<polyline points="151.80,917.50 259.80,928.50 313.70,929.00 367.40,935.60 421.30,950.90 475.20,1237.00 529.20,1237.00" fill="none" stroke="#00f" stroke-width="3.6" stroke-linejoin="round" stroke-linecap="butt"/>
<line x1="151.80" y1="909.30" x2="151.80" y2="925.70" stroke="#000" stroke-width="1.3"/>
<line x1="146.90" y1="909.30" x2="156.70" y2="909.30" stroke="#000" stroke-width="1.3"/>
<line x1="146.90" y1="925.70" x2="156.70" y2="925.70" stroke="#000" stroke-width="1.3"/>
<line x1="259.80" y1="917.00" x2="259.80" y2="940.00" stroke="#000" stroke-width="1.3"/>
<line x1="254.90" y1="917.00" x2="264.70" y2="917.00" stroke="#000" stroke-width="1.3"/>
<line x1="254.90" y1="940.00" x2="264.70" y2="940.00" stroke="#000" stroke-width="1.3"/>
<line x1="313.70" y1="918.40" x2="313.70" y2="939.60" stroke="#000" stroke-width="1.3"/>
<line x1="308.80" y1="918.40" x2="318.60" y2="918.40" stroke="#000" stroke-width="1.3"/>
<line x1="308.80" y1="939.60" x2="318.60" y2="939.60" stroke="#000" stroke-width="1.3"/>
<line x1="367.40" y1="927.90" x2="367.40" y2="943.30" stroke="#000" stroke-width="1.3"/>
<line x1="362.50" y1="927.90" x2="372.30" y2="927.90" stroke="#000" stroke-width="1.3"/>
<line x1="362.50" y1="943.30" x2="372.30" y2="943.30" stroke="#000" stroke-width="1.3"/>
<line x1="421.30" y1="935.30" x2="421.30" y2="966.50" stroke="#000" stroke-width="1.3"/>
<line x1="416.40" y1="935.30" x2="426.20" y2="935.30" stroke="#000" stroke-width="1.3"/>
<line x1="416.40" y1="966.50" x2="426.20" y2="966.50" stroke="#000" stroke-width="1.3"/>
<line x1="475.20" y1="1227.30" x2="475.20" y2="1237.00" stroke="#000" stroke-width="1.3"/>
<line x1="470.30" y1="1227.30" x2="480.10" y2="1227.30" stroke="#000" stroke-width="1.3"/>
<path d="M144.85,913.30 L158.75,913.30 L151.80,925.90 Z" fill="#000"/>
<path d="M252.85,924.30 L266.75,924.30 L259.80,936.90 Z" fill="#000"/>
<path d="M306.75,924.80 L320.65,924.80 L313.70,937.40 Z" fill="#000"/>
<path d="M360.45,931.40 L374.35,931.40 L367.40,944.00 Z" fill="#000"/>
<path d="M414.35,946.70 L428.25,946.70 L421.30,959.30 Z" fill="#000"/>
<path d="M468.25,1232.80 L482.15,1232.80 L475.20,1245.40 Z" fill="#000"/>
<path d="M522.25,1232.80 L536.15,1232.80 L529.20,1245.40 Z" fill="#000"/>
<polyline points="151.80,916.70 259.80,1031.50 313.70,1208.10 367.40,1235.60 421.30,1235.60 475.20,1235.60 529.20,1235.60" fill="none" stroke="#0f0" stroke-width="3.6" stroke-linejoin="round" stroke-linecap="butt"/>
<line x1="259.80" y1="1014.50" x2="259.80" y2="1048.50" stroke="#000" stroke-width="1.3"/>
<line x1="254.90" y1="1014.50" x2="264.70" y2="1014.50" stroke="#000" stroke-width="1.3"/>
<line x1="254.90" y1="1048.50" x2="264.70" y2="1048.50" stroke="#000" stroke-width="1.3"/>
<line x1="313.70" y1="1189.60" x2="313.70" y2="1226.60" stroke="#000" stroke-width="1.3"/>
<line x1="308.80" y1="1189.60" x2="318.60" y2="1189.60" stroke="#000" stroke-width="1.3"/>
<line x1="308.80" y1="1226.60" x2="318.60" y2="1226.60" stroke="#000" stroke-width="1.3"/>
<path d="M151.80,909.90 L157.80,920.10 L145.80,920.10 Z" fill="#fff" stroke="#000" stroke-width="1.3" stroke-linejoin="miter"/>
<path d="M259.80,1024.70 L265.80,1034.90 L253.80,1034.90 Z" fill="#fff" stroke="#000" stroke-width="1.3" stroke-linejoin="miter"/>
<path d="M313.70,1201.30 L319.70,1211.50 L307.70,1211.50 Z" fill="#fff" stroke="#000" stroke-width="1.3" stroke-linejoin="miter"/>
<path d="M367.40,1228.80 L373.40,1239.00 L361.40,1239.00 Z" fill="#fff" stroke="#000" stroke-width="1.3" stroke-linejoin="miter"/>
<path d="M421.30,1228.80 L427.30,1239.00 L415.30,1239.00 Z" fill="#fff" stroke="#000" stroke-width="1.3" stroke-linejoin="miter"/>
<path d="M475.20,1228.80 L481.20,1239.00 L469.20,1239.00 Z" fill="#fff" stroke="#000" stroke-width="1.3" stroke-linejoin="miter"/>
<path d="M529.20,1228.80 L535.20,1239.00 L523.20,1239.00 Z" fill="#fff" stroke="#000" stroke-width="1.3" stroke-linejoin="miter"/>
<rect x="100" y="1103.3" width="182.2" height="120" fill="#fff"/>
<line x1="115.10" y1="1127.80" x2="161.30" y2="1127.80" stroke="#000" stroke-width="4.0" stroke-linecap="butt"/>
<circle cx="138.20" cy="1127.80" r="7.40" fill="#000"/>
<text x="174.00" y="1134.70" font-family='"Liberation Serif", serif' font-weight="bold" font-size="20.2" text-anchor="start" >Full-length</text>
<line x1="115.10" y1="1154.40" x2="161.30" y2="1154.40" stroke="#f00" stroke-width="4.0" stroke-linecap="butt"/>
<circle cx="138.20" cy="1154.40" r="6.75" fill="#fff" stroke="#000" stroke-width="1.3"/>
<text x="174.00" y="1161.30" font-family='"Liberation Serif", serif' font-weight="bold" font-size="20.2" text-anchor="start" >&#916;339-368</text>
<line x1="115.10" y1="1181.00" x2="161.30" y2="1181.00" stroke="#00f" stroke-width="4.0" stroke-linecap="butt"/>
<path d="M130.85,1176.56 L145.55,1176.56 L138.20,1189.88 Z" fill="#000"/>
<text x="174.00" y="1187.90" font-family='"Liberation Serif", serif' font-weight="bold" font-size="20.2" text-anchor="start" >&#916;309-368</text>
<line x1="115.10" y1="1207.60" x2="161.30" y2="1207.60" stroke="#0f0" stroke-width="4.0" stroke-linecap="butt"/>
<path d="M138.20,1200.41 L144.54,1211.19 L131.86,1211.19 Z" fill="#fff" stroke="#000" stroke-width="1.3" stroke-linejoin="miter"/>
<text x="174.00" y="1214.50" font-family='"Liberation Serif", serif' font-weight="bold" font-size="20.2" text-anchor="start" >&#916;298-368</text>
</svg>
</body></html>
